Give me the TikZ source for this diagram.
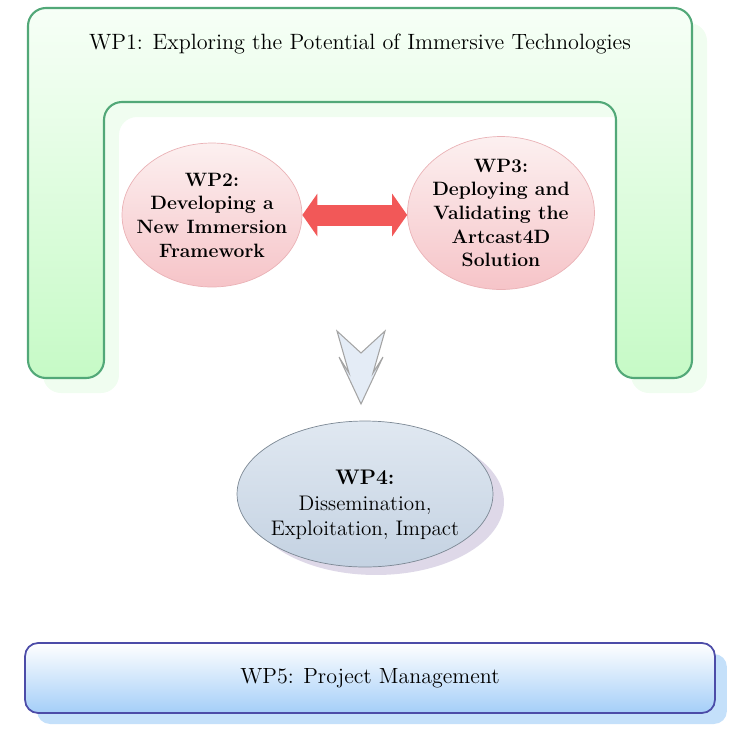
\documentclass[tikz,border=0pt]{standalone}
\usetikzlibrary{shapes.geometric,shadows,arrows.meta}
\definecolor{uline}{HTML}{52A878}
\definecolor{utop}{HTML}{F7FFF7}
\definecolor{ubot}{HTML}{C6FAC6}
\definecolor{ushade}{HTML}{F0FDF0}
\definecolor{pinkline}{HTML}{EAB2B6}
\definecolor{pinktop}{HTML}{FCF0F0}
\definecolor{pinkbot}{HTML}{F6C4C8}
\definecolor{linkred}{HTML}{F25858}
\definecolor{chevfill}{HTML}{E4ECF6}
\definecolor{chevline}{HTML}{A4A4A4}
\definecolor{bluetop}{HTML}{E0E8F1}
\definecolor{bluebot}{HTML}{C4D2E2}
\definecolor{blueline}{HTML}{7C8894}
\definecolor{lilac}{HTML}{DED8E8}
\definecolor{mgmtline}{HTML}{4C4CA8}
\definecolor{mgmtbot}{HTML}{A4CEF8}
\definecolor{mgmtshade}{HTML}{C4E0FA}
\begin{document}
\begin{tikzpicture}[x=0.02cm, y=-0.02cm,
    uframe/.style={draw=uline, line width=1.2pt, rounded corners=0.36cm,
      top color=utop, bottom color=ubot,
      drop shadow={shadow xshift=0.3cm, shadow yshift=-0.3cm, fill=ushade, opacity=1}},
    wpoval/.style={ellipse, draw=pinkline, top color=pinktop, bottom color=pinkbot,
      inner sep=0pt},
    ovaltext/.style={align=center, inner sep=0pt, font=\bfseries\fontsize{11}{13.5}\selectfont},
    wpfour/.style={ellipse, draw=blueline, top color=bluetop, bottom color=bluebot,
      inner sep=0pt, minimum width=5.12cm, minimum height=2.92cm,
      drop shadow={shadow xshift=0.22cm, shadow yshift=-0.16cm, fill=lilac, opacity=1}},
    fourtext/.style={align=center, inner sep=0pt, font=\fontsize{12}{14.5}\selectfont},
    wpbar/.style={draw=mgmtline, line width=1pt, rounded corners=0.26cm,
      top color=white, bottom color=mgmtbot,
      minimum width=13.8cm, minimum height=1.4cm,
      font=\fontsize{12.5}{15}\selectfont,
      drop shadow={shadow xshift=0.24cm, shadow yshift=-0.22cm, fill=mgmtshade, opacity=1}},
    biarrow/.style={draw=linkred, line width=0.42cm,
      arrows={Triangle[length=0.3cm,width=0.84cm]-Triangle[length=0.3cm,width=0.84cm]}},
    chevron/.style={draw=chevline, fill=chevfill, line width=0.6pt, line join=miter}]
\useasboundingbox (0,0) rectangle (741,728);

% WP1 frame
\draw[uframe] (28,378) -- (28,8) -- (692,8) -- (692,378) -- (616,378)
  -- (616,102) -- (104,102) -- (104,378) -- cycle;
\node[font=\fontsize{12.6}{15}\selectfont] (wp1) at (360,44)
  {WP1: Exploring the Potential of Immersive Technologies};

% WP2 and WP3
\node[wpoval, minimum width=3.6cm, minimum height=2.88cm,
  label={[ovaltext]center:{WP2:\\Developing a\\New Immersion\\Framework}}] (wp2) at (212,215) {};
\node[wpoval, minimum width=3.74cm, minimum height=3.06cm,
  label={[ovaltext]center:{WP3:\\Deploying and\\Validating the\\Artcast4D\\Solution}}] (wp3) at (501,213) {};
\draw[biarrow] (wp2.east) -- (wp3.west |- wp2.east);

% down arrow
\draw[chevron] (337,331) -- (361,353) -- (385,331) -- (373,373) -- (383,357)
  -- (361,404) -- (339,357) -- (349,373) -- cycle;

% WP4
\node[wpfour, label={[fourtext, yshift=-0.22cm]center:{\textbf{WP4:}\\Dissemination,\\Exploitation, Impact}}]
  (wp4) at (365,494) {};

% WP5
\node[wpbar] (wp5) at (370,678) {WP5: Project Management};
\end{tikzpicture}
\end{document}
